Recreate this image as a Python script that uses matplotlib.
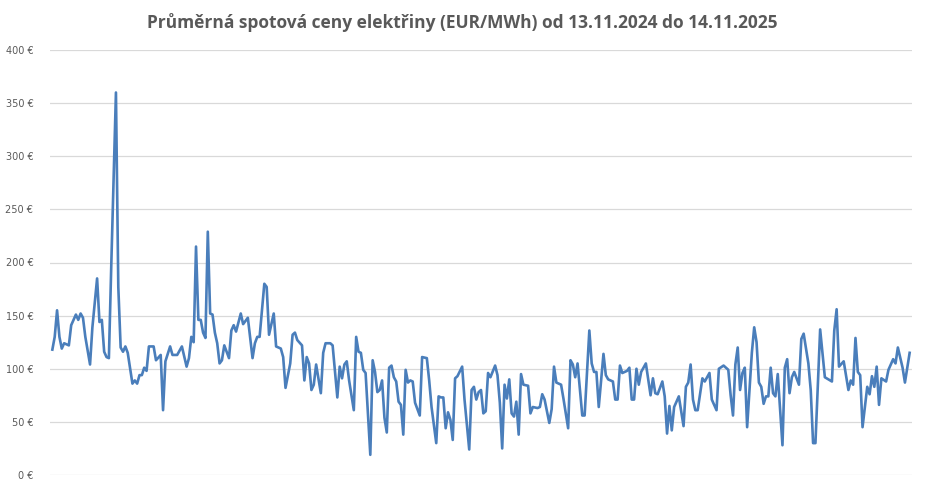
import matplotlib
matplotlib.use("Agg")
import matplotlib.pyplot as plt
import datetime

# days since 13.11.2024 and daily average spot price (EUR/MWh)
days = [1, 2, 3, 4, 5, 6, 8, 9, 11, 12, 13, 14, 15, 17, 18, 20, 21, 22, 23, 24,
        25, 26, 28, 29, 30, 31, 32, 33, 35, 36, 37, 38, 39, 40, 41, 42, 44, 45, 47, 48,
        49, 51, 52, 54, 56, 58, 59, 60, 61, 62, 63, 64, 65, 66, 67, 68, 69, 70, 71, 72,
        73, 74, 76, 77, 78, 79, 81, 82, 84, 86, 87, 88, 89, 91, 92, 93, 95, 96, 98, 99,
        100, 102, 103, 104, 105, 107, 108, 109, 110, 111, 112, 113, 115, 116, 117, 119, 120, 122, 123, 124,
        125, 126, 127, 129, 130, 131, 132, 133, 134, 136, 137, 138, 139, 140, 141, 142, 143, 144, 145, 146,
        147, 148, 149, 150, 151, 152, 153, 154, 155, 157, 158, 160, 161, 162, 164, 165, 166, 167, 168, 169,
        170, 171, 172, 173, 175, 176, 178, 179, 180, 181, 182, 183, 184, 185, 186, 187, 189, 190, 191, 192,
        193, 194, 195, 196, 197, 198, 199, 200, 201, 203, 204, 205, 207, 208, 209, 210, 212, 213, 214, 215,
        216, 217, 218, 220, 221, 222, 223, 224, 225, 226, 227, 229, 230, 231, 232, 233, 235, 236, 237, 239,
        240, 241, 242, 243, 245, 246, 247, 248, 249, 250, 251, 253, 255, 256, 257, 258, 260, 261, 262, 263,
        264, 265, 267, 269, 270, 271, 272, 273, 274, 275, 277, 278, 280, 281, 283, 284, 286, 288, 289, 290,
        291, 292, 293, 294, 295, 296, 298, 299, 300, 301, 302, 303, 304, 305, 306, 307, 308, 309, 311, 312,
        313, 314, 315, 316, 318, 319, 320, 322, 323, 324, 325, 327, 328, 329, 332, 333, 334, 335, 337, 339,
        340, 341, 342, 343, 344, 345, 347, 348, 349, 350, 351, 352, 353, 355, 356, 358, 359, 360, 362, 363,
        365]
prices = [118, 130, 155, 130, 119, 124, 122, 141, 151, 146, 152, 148, 130, 104, 139, 185, 144, 146, 116, 111,
          110, 196, 360, 177, 120, 116, 121, 115, 86, 89, 86, 94, 94, 101, 98, 121, 121, 108, 113, 61,
          107, 121, 113, 113, 121, 102, 110, 130, 125, 215, 146, 146, 134, 129, 229, 152, 151, 134, 124, 105,
          108, 122, 110, 136, 141, 135, 152, 142, 148, 110, 124, 130, 130, 180, 177, 132, 152, 121, 119, 111,
          82, 105, 132, 134, 127, 122, 89, 111, 105, 80, 85, 104, 77, 115, 124, 124, 122, 73, 102, 91,
          104, 107, 89, 61, 130, 116, 115, 99, 96, 19, 108, 97, 78, 80, 89, 54, 40, 101, 103, 92,
          88, 69, 66, 38, 99, 87, 89, 88, 68, 56, 111, 110, 89, 64, 30, 74, 73, 73, 44, 59,
          52, 33, 91, 93, 102, 71, 24, 80, 83, 71, 78, 80, 58, 60, 96, 92, 103, 94, 68, 25,
          85, 72, 90, 58, 55, 69, 38, 95, 85, 84, 58, 64, 63, 64, 76, 71, 49, 62, 102, 87,
          86, 85, 72, 44, 108, 104, 92, 105, 80, 56, 56, 136, 105, 97, 97, 64, 114, 94, 90, 88,
          71, 71, 103, 96, 98, 101, 71, 71, 100, 85, 97, 105, 75, 91, 77, 76, 88, 74, 39, 65,
          42, 64, 74, 46, 83, 87, 104, 71, 61, 61, 91, 88, 96, 71, 61, 100, 103, 99, 75, 56,
          104, 120, 80, 96, 101, 45, 115, 139, 125, 87, 83, 67, 74, 74, 101, 77, 74, 95, 28, 101,
          109, 77, 92, 97, 85, 128, 133, 105, 80, 30, 30, 137, 115, 92, 88, 136, 156, 102, 107, 80,
          89, 85, 129, 97, 94, 45, 83, 76, 93, 83, 102, 66, 91, 88, 99, 109, 105, 120, 101, 87,
          115]
y_ticks = [0, 50, 100, 150, 200, 250, 300, 350, 400]
title = "Průměrná spotová ceny elektřiny (EUR/MWh) od 13.11.2024 do 14.11.2025"

start = datetime.date(2024, 11, 13)
dates = [start + datetime.timedelta(days=d) for d in days]

fig = plt.figure(figsize=(9.25, 4.92), dpi=100)
ax = fig.add_axes([50 / 925, 17 / 492, 862 / 925, 425 / 492])

ax.plot(dates, prices, color='#4A7EBB', linewidth=1.9, solid_joinstyle='round')

ax.set_ylim(0, 400)
ax.set_xlim(start, start + datetime.timedelta(days=366))
ax.set_yticks(y_ticks)
ax.set_yticklabels(["{} €".format(v) for v in y_ticks])
ax.set_xticks([])
ax.grid(axis='y', color='#D9D9D9', linewidth=0.9)
ax.set_axisbelow(True)
for s in ax.spines.values():
  s.set_visible(False)
ax.tick_params(axis='y', length=0, labelsize=7, labelcolor='#595959', pad=12)

fig.text(0.5, 0.955, title, ha='center', va='center', fontsize=12.5,
         fontweight='bold', color='#595959', family='Open Sans')

fig.savefig('out.png', dpi=100)
